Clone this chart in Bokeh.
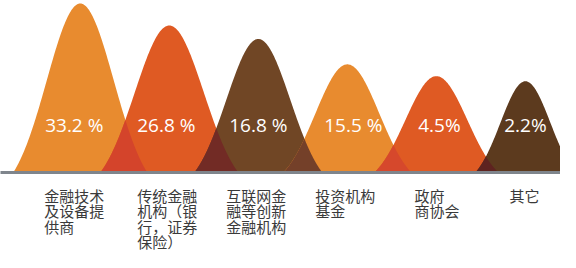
import numpy as np
from bokeh.plotting import figure
from bokeh.models import Range1d, ColumnDataSource
from bokeh.core.properties import value
from bokeh.embed import file_html
from bokeh.resources import INLINE

# ---------------- data ----------------
category_lines = [
    ["金融技术", "及设备提", "供商"],
    ["传统金融", "机构（银", "行，证券", "保险）"],
    ["互联网金", "融等创新", "金融机构"],
    ["投资机构", "基金"],
    ["政府", "商协会"],
    ["其它"],
]
shares = [33.2, 26.8, 16.8, 15.5, 4.5, 2.2]
share_labels = ["33.2 %", "26.8 %", "16.8 %", "15.5 %", "4.5%", "2.2%"]
hump_heights = [100, 87, 79, 64, 57, 54]   # relative hump heights

# ---------------- styles ----------------
hump_colors = ["#E88B2F", "#DF5A23", "#704625", "#E88B2F", "#DF5A23", "#5C3A1E"]
overlap_colors = ["#D4442B", "#722B25", "#744029", "#D6482C", "#5E2320"]
half_width_px = [67, 69, 64, 64, 62, 50]
value_dx_px = [-6, -3, 0, 6, 3, 0]
label_dx_px = [-4, 0, 0, 0, 2, 0]

W, H = 560, 252
PX_X = 89.03          # px per category step
X0 = 79.76            # px of first category centre
PX_Y = 1.69           # px per height unit
BASE = 172            # px of baseline from top

x_start = (0 - X0) / PX_X
x_end = (W - X0) / PX_X
y_top = BASE / PX_Y
y_bot = (BASE - H) / PX_Y

p = figure(width=W, height=H, output_backend="svg", toolbar_location=None,
           x_range=Range1d(x_start, x_end), y_range=Range1d(y_bot, y_top),
           min_border=0, min_border_left=0, min_border_right=0,
           min_border_top=0, min_border_bottom=0)
p.axis.visible = False
p.grid.visible = False
p.outline_line_color = None
p.background_fill_color = "white"
p.border_fill_color = "white"

K = 2.0
def hump(x, c, hw, h):
    t = (x - c) / hw
    y = h * (np.exp(-K * t * t) - np.exp(-K)) / (1 - np.exp(-K))
    y[np.abs(t) > 1] = 0
    return np.clip(y, 0, None)

n = len(shares)
centers = list(range(n))
hws = [hp / PX_X for hp in half_width_px]

xs, ys = [], []
for i in range(n):
    xx = np.linspace(centers[i] - hws[i], centers[i] + hws[i], 200)
    yy = hump(xx, centers[i], hws[i], hump_heights[i])
    xs.append(list(xx))
    ys.append(list(yy))
p.patches(xs, ys, fill_color=hump_colors, line_color=None)

lx, ly = [], []
for i in range(n - 1):
    left = centers[i + 1] - hws[i + 1]
    right = centers[i] + hws[i]
    xx = np.linspace(left, right, 200)
    yy = np.minimum(hump(xx, centers[i], hws[i], hump_heights[i]),
                    hump(xx, centers[i + 1], hws[i + 1], hump_heights[i + 1]))
    lx.append(list(xx))
    ly.append(list(yy))
p.patches(lx, ly, fill_color=overlap_colors, line_color=None)

# baseline
p.segment(x0=[x_start - 1], y0=[0], x1=[x_end + 1], y1=[0],
          line_color="#7F858C", line_width=3)

# value labels
vsrc = ColumnDataSource(dict(x=centers, y=[(BASE - 124) / PX_Y] * n,
                             t=share_labels, o=value_dx_px))
p.text(x="x", y="y", text="t", x_offset="o", source=vsrc, text_color="white",
       text_font=value("Open Sans"), text_font_size="19px",
       text_align="center", text_baseline="middle")

# category labels
FS = 15
cx, cy, ct, co = [], [], [], []
for i, lines in enumerate(category_lines):
    maxc = max(len(s) for s in lines)
    for j, s in enumerate(lines):
        cx.append(centers[i])
        cy.append((BASE - (195 + j * 15.3)) / PX_Y)
        ct.append(s)
        co.append(-maxc * 16 / 2 + label_dx_px[i])
csrc = ColumnDataSource(dict(x=cx, y=cy, t=ct, o=co))
p.text(x="x", y="y", text="t", x_offset="o", source=csrc, text_color="#3A3A3A",
       text_font=value("Noto Sans CJK SC"), text_font_size=f"{FS}px",
       text_align="left", text_baseline="middle")

open("out.html", "w").write(file_html(p, INLINE))
